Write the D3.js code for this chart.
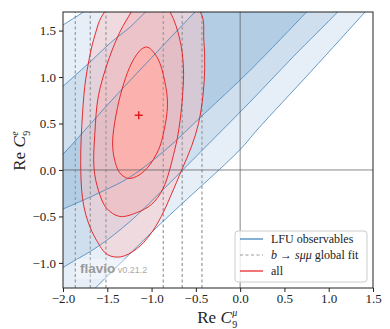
<!DOCTYPE html>
<html lang="en">
<head>
<meta charset="UTF-8">
<title>C9 mu vs C9 e</title>
<script src="https://d3js.org/d3.v7.min.js"></script>
<style>
body { margin: 0; background: #fff; }
svg text { font-family: "Liberation Serif", "DejaVu Serif", serif; }
</style>
</head>
<body>
<div id="chart"></div>
<script>
// tick values
var xTicks = [-2.0, -1.5, -1.0, -0.5, 0.0, 0.5, 1.0, 1.5];
var yTicks = [-1.0, -0.5, 0.0, 0.5, 1.0, 1.5];

// LFU observables contours, upper side then lower side
var lfu3Up = [[-2.1, 1.49], [-2.0, 1.56], [-1.77, 1.70], [-1.55, 1.86]];
var lfu2Up = [[-2.1, 0.81], [-2.0, 0.90], [-1.72, 1.14], [-1.45, 1.38], [-1.24, 1.54], [-1.08, 1.69], [-0.9, 1.86]];
var lfu1Up = [[-2.1, 0.08], [-2.0, 0.17], [-1.45, 0.75], [-0.87, 1.34], [-0.51, 1.70], [-0.3, 1.9]];
var lfu1Lo = [[-2.1, -0.46], [-2.0, -0.42], [-1.6, -0.25], [-1.25, -0.08], [-0.85, 0.21], [-0.4, 0.61], [0.11, 1.07], [0.75, 1.70], [0.9, 1.85]];
var lfu2Lo = [[-2.1, -1.12], [-2.0, -1.05], [-1.6, -0.82], [-1.25, -0.56], [-0.9, -0.24], [-0.42, 0.22], [0.11, 0.73], [0.6, 1.22], [1.1, 1.70], [1.25, 1.86]];
var lfu3Lo = [[-2.1, -1.70], [-1.64, -1.275], [-0.9, -0.58], [0.0, 0.22], [0.19, 0.43], [0.8, 1.06], [1.41, 1.70], [1.55, 1.85]];

// b -> s mu mu global fit: only depends on C9mu, 1/2/3 sigma bounds
var gfBounds = [-1.861, -1.692, -1.515, -0.868, -0.654, -0.431];

// combined fit contours
var all1 = [[-1.04, 1.32], [-0.93, 1.20], [-0.85, 0.95], [-0.82, 0.70], [-0.86, 0.42], [-0.92, 0.22], [-1.05, 0.02], [-1.17, -0.07], [-1.27, -0.09], [-1.36, -0.03], [-1.42, 0.12], [-1.44, 0.30], [-1.40, 0.60], [-1.33, 0.88], [-1.25, 1.10], [-1.17, 1.24], [-1.10, 1.31]];
var all2 = [[-1.0, 1.95], [-0.79, 1.70], [-0.68, 1.40], [-0.64, 1.10], [-0.65, 0.80], [-0.69, 0.45], [-0.74, 0.21], [-0.87, -0.20], [-1.0, -0.37], [-1.17, -0.46], [-1.36, -0.50], [-1.51, -0.41], [-1.60, -0.22], [-1.65, 0.02], [-1.64, 0.40], [-1.60, 0.80], [-1.48, 1.20], [-1.35, 1.50], [-1.23, 1.70], [-1.12, 1.90]];
var all3 = [[-1.0, 2.1], [-0.45, 1.70], [-0.41, 1.40], [-0.40, 1.10], [-0.42, 0.80], [-0.47, 0.50], [-0.55, 0.25], [-0.66, 0.0], [-0.78, -0.27], [-0.89, -0.50], [-1.02, -0.70], [-1.17, -0.85], [-1.35, -0.935], [-1.50, -0.91], [-1.62, -0.76], [-1.72, -0.55], [-1.78, -0.30], [-1.80, 0.10], [-1.78, 0.60], [-1.74, 1.00], [-1.64, 1.45], [-1.53, 1.70]];
var bestFit = [-1.145, 0.589];

var legendLabels = ["LFU observables", "global fit", "all"];

var blue = "#377eb8", red = "#e41a1c";

var svg = d3.select("#chart").append("svg")
    .attr("width", 390)
    .attr("height", 329);

var x = d3.scaleLinear().domain([-2, 1.5]).range([63, 373]);
var y = d3.scaleLinear().domain([-1.27, 1.7]).range([288, 12]);

svg.append("clipPath").attr("id", "clip")
  .append("rect")
    .attr("x", x.range()[0]).attr("y", y.range()[1])
    .attr("width", x.range()[1] - x.range()[0])
    .attr("height", y.range()[0] - y.range()[1]);

var plot = svg.append("g").attr("clip-path", "url(#clip)");

var contourLine = d3.line().x(function(d) { return x(d[0]); }).y(function(d) { return y(d[1]); })
    .curve(d3.curveCatmullRom);
var ringLine = d3.line().x(function(d) { return x(d[0]); }).y(function(d) { return y(d[1]); })
    .curve(d3.curveCatmullRomClosed);

// region between two contour lines
function band(a, b) {
    var s = contourLine(a), t = contourLine(b.slice().reverse());
    return s + "L" + t.slice(1) + "Z";
}

var bands = [
    [lfu3Up, lfu2Up, "#e6eef7"],
    [lfu2Up, lfu1Up, "#cfdfee"],
    [lfu1Up, lfu1Lo, "#b2cde4"],
    [lfu1Lo, lfu2Lo, "#cfdfee"],
    [lfu2Lo, lfu3Lo, "#e6eef7"]
];
plot.selectAll(".band").data(bands).enter().append("path")
    .attr("d", function(d) { return band(d[0], d[1]); })
    .attr("fill", function(d) { return d[2]; });

// combined fit fills
plot.append("path").attr("d", ringLine(all3)).attr("fill", "#f7c6c8").attr("fill-opacity", 0.5);
plot.append("path").attr("d", ringLine(all2)).attr("fill", "#f4b4b8").attr("fill-opacity", 0.5);
plot.append("path").attr("d", ringLine(all1)).attr("fill", "#fdb1ad").attr("fill-opacity", 0.92);

// global fit dashed bounds
plot.selectAll(".gf").data(gfBounds).enter().append("line")
    .attr("x1", function(d) { return x(d); }).attr("x2", function(d) { return x(d); })
    .attr("y1", y.range()[0]).attr("y2", y.range()[1])
    .attr("stroke", "#999").attr("stroke-width", 1.2).attr("stroke-dasharray", "3,2.5");

// LFU lines
plot.selectAll(".lfu").data([lfu3Up, lfu2Up, lfu1Up, lfu1Lo, lfu2Lo, lfu3Lo]).enter().append("path")
    .attr("d", contourLine).attr("fill", "none")
    .attr("stroke", blue).attr("stroke-width", 0.9).attr("stroke-opacity", 0.85);

// combined fit lines
plot.selectAll(".all").data([all1, all2, all3]).enter().append("path")
    .attr("d", ringLine).attr("fill", "none")
    .attr("stroke", red).attr("stroke-width", 1).attr("stroke-opacity", 0.9);

// zero lines
plot.append("line").attr("x1", x(0)).attr("x2", x(0)).attr("y1", y.range()[0]).attr("y2", y.range()[1])
    .attr("stroke", "#555").attr("stroke-opacity", 0.7).attr("stroke-width", 1);
plot.append("line").attr("y1", y(0)).attr("y2", y(0)).attr("x1", x.range()[0]).attr("x2", x.range()[1])
    .attr("stroke", "#555").attr("stroke-opacity", 0.7).attr("stroke-width", 1);

// best fit point
var bx = x(bestFit[0]), by = y(bestFit[1]);
plot.append("path").attr("d", "M" + (bx - 4) + "," + by + "H" + (bx + 4) + "M" + bx + "," + (by - 4) + "V" + (by + 4))
    .attr("stroke", red).attr("stroke-width", 1.5);

// flavio watermark
plot.append("rect").attr("x", 76).attr("y", 259).attr("width", 70).attr("height", 20)
    .attr("fill", "#fff").attr("fill-opacity", 0.35);
var wm = svg.append("text").attr("x", 80).attr("y", 273).attr("fill", "#9a9a9a")
    .style("font-family", "'Liberation Sans', 'DejaVu Sans', sans-serif");
wm.append("tspan").text("flavio").style("font-weight", "bold").style("font-size", "13.5px");
wm.append("tspan").text(" v0.21.2").style("font-size", "9px").attr("fill", "#aaa");

// axes
var fmt = d3.format(".1f");
var xAxis = svg.append("g").attr("transform", "translate(0," + y.range()[0] + ")")
    .call(d3.axisBottom(x).tickValues(xTicks).tickSize(4).tickPadding(2).tickFormat(fmt));
var yAxis = svg.append("g").attr("transform", "translate(" + x.range()[0] + ",0)")
    .call(d3.axisLeft(y).tickValues(yTicks).tickSize(4).tickPadding(3).tickFormat(fmt));
[xAxis, yAxis].forEach(function(a) {
    a.select(".domain").remove();
    a.selectAll("line").attr("stroke", "#222");
    a.selectAll("text").style("font-size", "13px").style("font-family", "'Liberation Serif', serif").attr("fill", "#222");
});

svg.append("rect")
    .attr("x", x.range()[0]).attr("y", y.range()[1])
    .attr("width", x.range()[1] - x.range()[0]).attr("height", y.range()[0] - y.range()[1])
    .attr("fill", "none").attr("stroke", "#222").attr("stroke-width", 1);

// axis labels: Re C_9^sup
function cLabel(g, sup) {
    var t = g.append("text").style("font-size", "17px").attr("fill", "#222");
    t.append("tspan").text("Re ");
    t.append("tspan").text("C").style("font-style", "italic");
    var w = t.node().getComputedTextLength();
    g.append("text").attr("x", w + 0.5).attr("y", 5).text("9").style("font-size", "10px").attr("fill", "#222");
    g.append("text").attr("x", w + 0.5).attr("y", -7).text(sup).style("font-size", "10px").style("font-style", "italic").attr("fill", "#222");
    return w + 7;
}
var xl = svg.append("g");
var wx = cLabel(xl, "μ");
xl.attr("transform", "translate(" + ((x.range()[0] + x.range()[1]) / 2 - wx / 2) + ",323)");
var yl = svg.append("g");
var wy = cLabel(yl, "e");
yl.attr("transform", "translate(25," + ((y.range()[0] + y.range()[1]) / 2 + wy / 2) + ") rotate(-90)");

// legend
var lg = svg.append("g");
lg.append("rect").attr("x", 235).attr("y", 231).attr("width", 132).attr("height", 51).attr("rx", 3)
    .attr("fill", "#fff").attr("fill-opacity", 0.8).attr("stroke", "#ccc").attr("stroke-width", 1);
var rows = [
    {stroke: blue, dash: null},
    {stroke: "#999", dash: "3,2.5"},
    {stroke: red, dash: null}
];
rows.forEach(function(r, i) {
    var ly = 239 + i * 16;
    lg.append("line").attr("x1", 240).attr("x2", 263).attr("y1", ly).attr("y2", ly)
        .attr("stroke", r.stroke).attr("stroke-width", 1.2).attr("stroke-dasharray", r.dash);
    var t = lg.append("text").attr("x", 271).attr("y", ly + 4).style("font-size", "12px").attr("fill", "#222");
    if (i === 1) {
        t.append("tspan").text("b").style("font-style", "italic");
        t.append("tspan").text(" → ");
        t.append("tspan").text("sμμ").style("font-style", "italic");
        t.append("tspan").text(" " + legendLabels[i]);
    } else {
        t.text(legendLabels[i]);
    }
});
</script>
</body>
</html>
